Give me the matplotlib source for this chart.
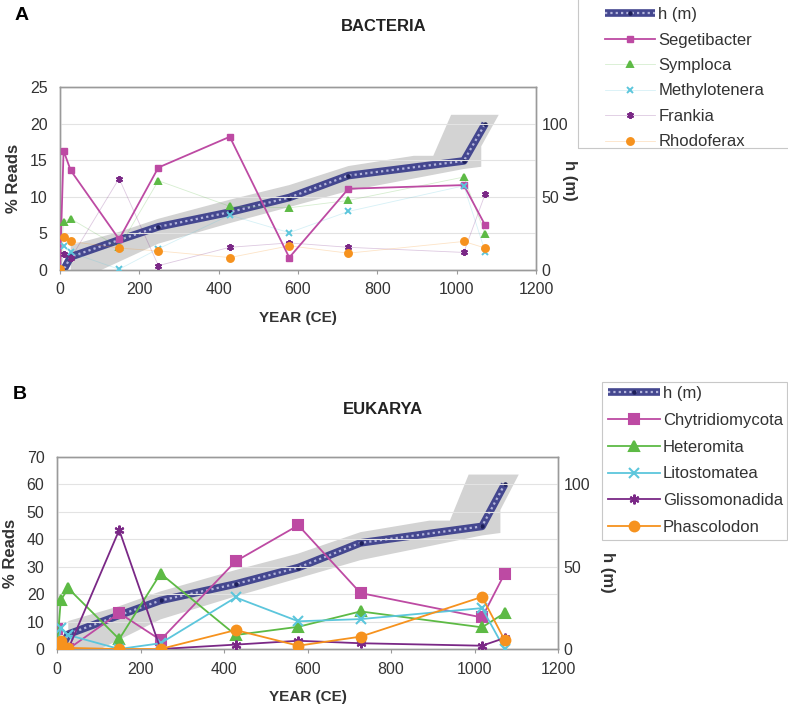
import matplotlib
matplotlib.use("Agg")
import matplotlib.pyplot as plt
from matplotlib.lines import Line2D
from matplotlib.patches import Rectangle
from matplotlib.legend_handler import HandlerTuple

plt.rcParams['font.family'] = ['Liberation Sans', 'DejaVu Sans']

W, H = 788, 715

# Años de las muestras y profundidad h (m)
years = [0, 9, 27, 149, 248, 428, 578, 727, 1018, 1072]
h_m = [0, 0, 9, 20.5, 29.5, 39.5, 49.5, 64.5, 74.5, 100]

# Banda de incertidumbre (vértices en año, m)
band_upper_year = [27, 149, 248, 428, 578, 727, 892, 941, 986, 1106]
band_upper_h = [17, 26, 35, 48, 58, 71, 78, 78, 106, 106]
band_lower_year = [1062, 1062, 1018, 727, 578, 428, 248, 104, 27]
band_lower_h = [84.5, 70.5, 69, 54, 43, 32, 18, 0, -5]

# Bacteria (% reads)
bac_names = ["Segetibacter", "Symploca", "Methylotenera", "Frankia", "Rhodoferax"]
segetibacter = [0, 16.3, 13.6, 4.2, 14.0, 18.2, 1.7, 11.1, 11.6, 6.1]
symploca = [0, 6.6, 7.0, 3.1, 12.2, 8.7, 8.5, 9.5, 12.7, 4.9]
methylotenera = [0, 3.3, 2.4, 0.1, 2.9, 7.5, 5.1, 8.0, 11.5, 2.5]
frankia = [0, 2.2, 1.6, 12.5, 0.6, 3.1, 3.7, 3.1, 2.4, 10.4]
rhodoferax = [0.1, 4.5, 3.9, 3.0, 2.6, 1.7, 3.3, 2.3, 3.9, 3.0]

# Eukarya (% reads)
euk_names = ["Chytridiomycota", "Heteromita", "Litostomatea", "Glissomonadida", "Phascolodon"]
chytridiomycota = [7.3, 0.5, 0.0, 13.1, 3.3, 32.0, 45.1, 20.4, 11.5, 27.4]
heteromita = [0, 17.8, 22.1, 3.6, 27.5, 5.1, 8.1, 13.7, 7.9, 13.1]
litostomatea = [0, 7.5, 5.1, 0.0, 2.1, 18.8, 10.1, 10.9, 14.9, 0.0]
glissomonadida = [0, 1.0, 0.0, 43.4, 0.0, 1.6, 3.0, 2.1, 1.2, 4.0]
phascolodon = [0.3, 2.8, 0.4, 0.0, 0.0, 6.9, 1.2, 4.5, 19.0, 3.3]

colors = ["#bd4aa3", "#5dba45", "#5cc6dc", "#7a2886", "#f6921e"]
markers = ["s", "^", "x", (6, 2, 0), "o"]
NAVY = "#44478f"
GREY_TXT = "#333333"


def px(x, y):
    # pixel (desde arriba-izquierda) -> fracción de figura
    return x / W, 1 - y / H


def h_line(ax):
    ax.plot(years, h_m, color=NAVY, lw=5.5, solid_capstyle="butt", zorder=4)
    ax.plot(years, h_m, color="#b3b5dc", lw=1.6, ls=(0, (1, 1.4)), zorder=5)
    ax.plot(years, h_m, ls="none", marker="o", ms=2.2, color="#1d1f5a", zorder=6)


def h_handle():
    a = Line2D([], [], color=NAVY, lw=5.5, solid_capstyle="butt")
    b = Line2D([], [], color="#b3b5dc", lw=1.6, ls=(0, (1, 1.4)))
    c = Line2D([], [], ls="none", marker="o", ms=2.2, color="#1d1f5a")
    return (a, b, c)


def setup(ax, ax2, ymax, yticks, hmax):
    ax.set_xlim(0, 1200)
    ax.set_ylim(0, ymax)
    ax.set_yticks(yticks)
    ax.set_xticks(range(0, 1201, 200))
    ax2.set_ylim(0, hmax)
    ax2.set_yticks([0, 50, 100])
    ax.grid(axis="y", color="#e3e3e3", lw=0.8)
    ax.set_axisbelow(True)
    for a in (ax, ax2):
        for s in a.spines.values():
            s.set_color("#9a9a9a")
            s.set_linewidth(1.0)
        a.tick_params(labelsize=11.5, labelcolor=GREY_TXT, colors="#9a9a9a")
    ax.tick_params(axis="y", length=0, pad=9)
    ax.tick_params(axis="x", length=3, direction="out", pad=6)
    ax2.tick_params(axis="y", length=0, pad=4)
    ax.set_xlabel("YEAR (CE)", fontsize=11, fontweight="bold", color=GREY_TXT, labelpad=10)
    ax.set_ylabel("% Reads", fontsize=12, fontweight="bold", color=GREY_TXT, labelpad=6)


def band(ax2):
    bx = band_upper_year + band_lower_year
    by = band_upper_h + band_lower_h
    ax2.fill(bx, by, color="#d3d3d3", lw=0, zorder=1)


fig = plt.figure(figsize=(W / 100, H / 100), dpi=100)

# ---------- A: BACTERIA ----------
axA = fig.add_axes([60 / W, 1 - 270 / H, 476 / W, 183 / H])
axA2 = axA.twinx()
axA.set_zorder(axA2.get_zorder() + 1)
axA.patch.set_visible(False)
band(axA2)
h_line(axA2)
bac_data = [segetibacter, symploca, methylotenera, frankia, rhodoferax]
handlesA = [h_handle()]
for i, (name, vals) in enumerate(zip(bac_names, bac_data)):
    if i == 0:
        axA.plot(years, vals, color=colors[i], lw=1.3, marker=markers[i], ms=4.5, zorder=6)
        handlesA.append(Line2D([], [], color=colors[i], lw=1.3, marker=markers[i], ms=4.5))
    else:
        axA.plot(years, vals, color=colors[i], lw=0.6, alpha=0.25, zorder=5)
        axA.plot(years, vals, ls="none", color=colors[i], marker=markers[i], ms=5, mew=1.4, zorder=6)
        handlesA.append((Line2D([], [], color=colors[i], lw=0.6, alpha=0.25),
                         Line2D([], [], ls="none", color=colors[i], marker=markers[i], ms=5, mew=1.4)))
setup(axA, axA2, 25, range(0, 26, 5), 125)
axA.set_title("BACTERIA", fontsize=12, fontweight="bold", color="#222222", x=0.68, y=1.26)

# ---------- B: EUKARYA ----------
axB = fig.add_axes([57 / W, 1 - 649 / H, 501 / W, 192 / H])
axB2 = axB.twinx()
axB.set_zorder(axB2.get_zorder() + 1)
axB.patch.set_visible(False)
band(axB2)
h_line(axB2)
euk_data = [chytridiomycota, heteromita, litostomatea, glissomonadida, phascolodon]
handlesB = [h_handle()]
for i, (name, vals) in enumerate(zip(euk_names, euk_data)):
    axB.plot(years, vals, color=colors[i], lw=1.3, marker=markers[i], ms=7, mew=1.5, zorder=6)
    handlesB.append(Line2D([], [], color=colors[i], lw=1.3, marker=markers[i], ms=7, mew=1.5))
setup(axB, axB2, 70, range(0, 71, 10), 70 * 5 / 3)
axB.set_title("EUKARYA", fontsize=12, fontweight="bold", color="#222222", x=0.65, y=1.18)

# etiquetas del eje derecho
fig.text(*px(569, 180), "h (m)", rotation=-90, ha="center", va="center",
         fontsize=12, fontweight="bold", color=GREY_TXT)
fig.text(*px(607, 572), "h (m)", rotation=-90, ha="center", va="center",
         fontsize=12, fontweight="bold", color=GREY_TXT)

# leyendas (marco dibujado aparte)
hmap = {tuple: HandlerTuple(ndivide=1, pad=0)}
legA = fig.legend(handlesA, ["h (m)"] + bac_names, loc="upper left",
                  bbox_to_anchor=px(605, 7), fontsize=12, frameon=False,
                  handlelength=3.0, handletextpad=0.2, labelspacing=0.63,
                  borderpad=0, borderaxespad=0, handler_map=hmap)
legB = fig.legend(handlesB, ["h (m)"] + euk_names, loc="upper left",
                  bbox_to_anchor=px(608, 386), fontsize=12, frameon=False,
                  handlelength=3.1, handletextpad=0.2, labelspacing=0.71,
                  borderpad=0, borderaxespad=0, handler_map=hmap)
for leg in (legA, legB):
    for t in leg.get_texts():
        t.set_color(GREY_TXT)

for (x0, y0, x1, y1) in [(578, -2, 792, 148), (602, 382, 787, 540)]:
    fig.patches.append(Rectangle((x0 / W, 1 - y1 / H), (x1 - x0) / W, (y1 - y0) / H,
                                 transform=fig.transFigure, fill=False,
                                 edgecolor="#c8c8c8", lw=0.8))

fig.text(*px(15, 15), "A", fontsize=14, fontweight="bold", va="center", ha="left")
fig.text(*px(13, 395), "B", fontsize=14, fontweight="bold", va="center", ha="left")

fig.savefig("out.png", dpi=100)
